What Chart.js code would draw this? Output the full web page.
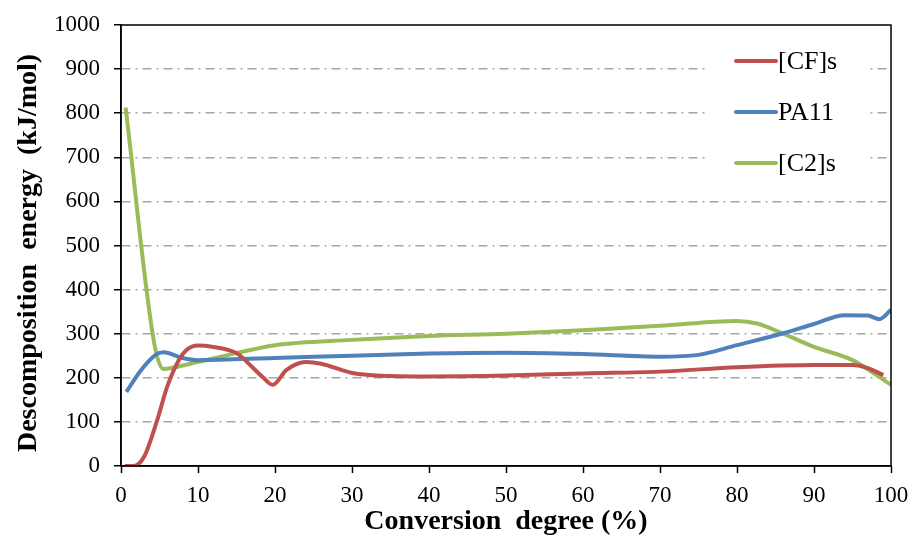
<!DOCTYPE html>
<html lang="en">
  <head>
    <meta charset="UTF-8" />
    <title>Descomposition energy</title>
    <script src="https://cdn.jsdelivr.net/npm/chart.js"></script>
    <style>
      html, body { margin: 0; padding: 0; background: #fff; }
      #chart { display: block; }
    </style>
  </head>
  <body>
    <canvas id="chart" width="910" height="539"></canvas>
    <script>
      // values (conversion %, kJ/mol)
      const cfX = [0.5, 1.6, 3, 4.7, 6, 7.5, 8.5, 10, 12, 15, 17, 18.5, 19.7, 21.5, 24, 26, 30, 35, 40, 50, 60, 70, 80, 90, 95, 97, 99];
      const cfY = [0, 0, 21, 104, 180, 240, 263, 273, 270, 256, 225, 200, 184, 218, 236, 232, 211, 204, 203, 205, 210, 214, 224, 229, 229, 222, 206];

      const paX = [0.7, 2.5, 4.5, 5.5, 8, 10, 20, 30, 40, 50, 60, 70, 75, 80, 86, 90, 94, 97, 98.5, 100];
      const paY = [168, 215, 252, 258, 245, 240, 245, 250, 255, 257, 254, 248, 252, 274, 301, 322, 342, 341, 333, 354];

      const c2X = [0.6, 4.3, 5.5, 7, 10, 15, 20, 30, 40, 50, 60, 70, 80, 82.6, 86, 90, 95, 100];
      const c2Y = [813, 280, 220, 224, 236, 256, 274, 286, 295, 300, 308, 318, 329, 323, 300, 270, 240, 184];

      const seriesNames = ["[CF]s", "PA11", "[C2]s"];
      const seriesColors = ["#C0504D", "#4F81BD", "#9BBB59"];
      const yTicks = [0, 100, 200, 300, 400, 500, 600, 700, 800, 900, 1000];
      const xTicks = [0, 10, 20, 30, 40, 50, 60, 70, 80, 90, 100];
      const yTitle = "Descomposition  energy  (kJ/mol)";
      const xTitle = "Conversion  degree (%)";

      const serif = "'Liberation Serif', 'Times New Roman', serif";

      function pts(xs, ys) {
        return xs.map((x, i) => ({ x: x, y: ys[i] }));
      }

      const datasets = [pts(cfX, cfY), pts(paX, paY), pts(c2X, c2Y)].map((d, i) => ({
        label: seriesNames[i],
        data: d,
        borderColor: seriesColors[i],
        backgroundColor: seriesColors[i],
        borderWidth: 4,
        pointRadius: 0,
        cubicInterpolationMode: "monotone",
        fill: false,
      }));

      // black frame, legend box inside the plot, rotated y title
      const framePlugin = {
        id: "frame",
        afterDatasetsDraw(chart) {
          const a = chart.chartArea;
          const ctx = chart.ctx;
          ctx.save();
          // legend sits on a white box that hides the grid behind it
          ctx.fillStyle = "#fff";
          ctx.fillRect(706, a.top + 2, 164, 160);
          ctx.strokeStyle = "#000";
          ctx.lineWidth = 1.5;
          ctx.strokeRect(a.left, a.top, a.right - a.left, a.bottom - a.top);
          ctx.restore();
        },
        afterDraw(chart) {
          const ctx = chart.ctx;
          ctx.save();
          ctx.font = "26px " + serif;
          ctx.textBaseline = "middle";
          ctx.textAlign = "left";
          chart.data.datasets.forEach((ds, i) => {
            const y = 61 + i * 51;
            ctx.strokeStyle = ds.borderColor;
            ctx.lineWidth = 4;
            ctx.lineCap = "round";
            ctx.beginPath();
            ctx.moveTo(736, y);
            ctx.lineTo(776, y);
            ctx.stroke();
            ctx.fillStyle = "#000";
            ctx.fillText(ds.label, 778, y + 1);
          });
          // y axis title
          ctx.translate(29, 253);
          ctx.rotate(-Math.PI / 2);
          ctx.textAlign = "center";
          ctx.font = "bold 28px " + serif;
          ctx.fillText(yTitle, 0, 0);
          ctx.restore();
        },
      };

      new Chart(document.getElementById("chart"), {
        type: "line",
        data: { datasets: datasets },
        plugins: [framePlugin],
        options: {
          responsive: false,
          animation: false,
          layout: { padding: { top: 25, right: 19, left: 0, bottom: 0 } },
          plugins: {
            legend: { display: false },
            tooltip: { enabled: false },
          },
          scales: {
            x: {
              type: "linear",
              min: 0,
              max: 100,
              afterBuildTicks(scale) {
                scale.ticks = xTicks.map((v) => ({ value: v }));
              },
              afterFit(scale) {
                scale.height = 73;
                scale.paddingLeft = 0;
                scale.paddingRight = 0;
              },
              grid: {
                drawOnChartArea: false,
                drawTicks: true,
                tickLength: 7,
                tickColor: "#000",
                tickWidth: 1.5,
              },
              border: { display: true, color: "#000", width: 1.5 },
              ticks: {
                color: "#000",
                font: { family: serif, size: 23 },
                padding: 9,
                maxRotation: 0,
                callback: (v) => String(v),
              },
              title: {
                display: true,
                text: xTitle,
                color: "#000",
                font: { family: serif, size: 28, weight: "bold" },
                padding: { top: 0, bottom: 0 },
              },
            },
            y: {
              min: 0,
              max: 1000,
              afterBuildTicks(scale) {
                scale.ticks = yTicks.map((v) => ({ value: v }));
              },
              afterFit(scale) {
                scale.width = 121;
                scale.paddingTop = 0;
                scale.paddingBottom = 0;
              },
              grid: {
                color: (c) => (c.tick && (c.tick.value === 0 || c.tick.value === 1000) ? "rgba(0,0,0,0)" : "#A6A6A6"),
                lineWidth: 1.5,
                drawTicks: true,
                tickLength: 7,
                tickColor: "#000",
                tickWidth: 1.5,
                tickBorderDash: [],
              },
              border: { display: true, color: "#000", width: 1.5, dash: [9, 5, 2, 5] },
              ticks: {
                color: "#000",
                font: { family: serif, size: 23 },
                padding: 14,
                callback: (v) => String(v),
              },
              title: { display: false },
            },
          },
        },
      });
    </script>
  </body>
</html>
